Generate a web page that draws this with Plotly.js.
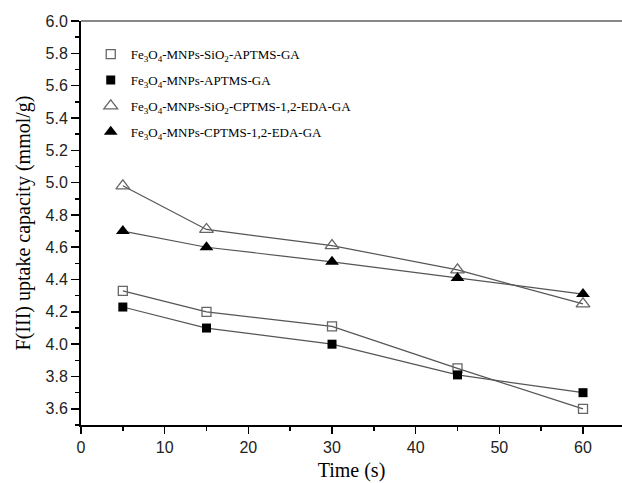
<!DOCTYPE html>
<html>
<head>
<meta charset="utf-8">
<script src="https://cdn.plot.ly/plotly-3.0.1.min.js"></script>
<style>html,body{margin:0;padding:0;background:#fff;}#chart{width:622px;height:483px;}</style>
</head>
<body>
<div id="chart"></div>
<script>
const time = [5, 15, 30, 45, 60];
const sio2Aptms = [4.33, 4.20, 4.11, 3.85, 3.60];
const aptms = [4.23, 4.10, 4.00, 3.81, 3.70];
const sio2Cptms = [4.98, 4.71, 4.61, 4.46, 4.25];
const cptms = [4.70, 4.60, 4.51, 4.41, 4.31];
const seriesNames = [
  'Fe<sub>3</sub>O<sub>4</sub>-MNPs-SiO<sub>2</sub>-APTMS-GA',
  'Fe<sub>3</sub>O<sub>4</sub>-MNPs-APTMS-GA',
  'Fe<sub>3</sub>O<sub>4</sub>-MNPs-SiO<sub>2</sub>-CPTMS-1,2-EDA-GA',
  'Fe<sub>3</sub>O<sub>4</sub>-MNPs-CPTMS-1,2-EDA-GA'
];
const seriesValues = [sio2Aptms, aptms, sio2Cptms, cptms];
const markerStyles = [
  {symbol: 'square-open', size: 9, color: '#666', line: {width: 1.3, color: '#666'}},
  {symbol: 'square', size: 9, color: '#000', line: {width: 0}},
  {symbol: 'triangle-up-open', size: 12, color: '#666', line: {width: 1.3, color: '#666'}},
  {symbol: 'triangle-up', size: 12, color: '#000', line: {width: 0}}
];

const traces = [];
seriesValues.forEach((vals, i) => {
  traces.push({
    x: time, y: vals, mode: 'lines', showlegend: false,
    line: {color: '#555', width: 1.2}, hoverinfo: 'skip'
  });
});
seriesValues.forEach((vals, i) => {
  traces.push({
    x: time, y: vals, mode: 'markers', name: seriesNames[i],
    legendgroup: 'g' + i,
    marker: markerStyles[i]
  });
});

const serif = '"Liberation Serif", "Times New Roman", serif';
const sans = '"Liberation Sans", Arial, sans-serif';
const tickFont = {family: sans, size: 16, color: '#222'};
const titleFont = {family: serif, size: 20, color: '#000'};

const layout = {
  width: 622, height: 483,
  margin: {l: 81, r: 0, t: 21, b: 58},
  paper_bgcolor: '#fff', plot_bgcolor: '#fff',
  font: {family: serif},
  showlegend: true,
  legend: {
    x: 0.018, y: 0.955, xanchor: 'left', yanchor: 'top',
    font: {family: serif, size: 13, color: '#000'},
    bgcolor: 'rgba(0,0,0,0)', tracegroupgap: 6, itemwidth: 30
  },
  xaxis: {
    range: [0, 64.66], tickmode: 'linear', tick0: 0, dtick: 10,
    ticks: 'outside', ticklen: 7, tickwidth: 1.5, tickcolor: '#000',
    minor: {dtick: 5, ticks: 'outside', ticklen: 4, tickwidth: 1.5, tickcolor: '#000', showgrid: false},
    showline: true, linecolor: '#000', linewidth: 2,
    showgrid: false, zeroline: false,
    tickfont: tickFont,
    title: {text: 'Time (s)', font: titleFont, standoff: 8}
  },
  yaxis: {
    range: [3.5, 6.0], tickmode: 'linear', tick0: 3.6, dtick: 0.2, tickformat: '.1f',
    ticks: 'outside', ticklen: 8, tickwidth: 1.5, tickcolor: '#000',
    minor: {dtick: 0.1, ticks: 'outside', ticklen: 4, tickwidth: 1.5, tickcolor: '#000', showgrid: false},
    showline: true, linecolor: '#000', linewidth: 2,
    showgrid: false, zeroline: false,
    tickfont: tickFont,
    title: {text: 'F(III) uptake capacity (mmol/g)', font: titleFont, standoff: 10}
  },
  shapes: [{
    type: 'line', xref: 'paper', yref: 'paper', x0: 0, x1: 1, y0: 1, y1: 1,
    line: {color: '#888', width: 2}
  }]
};

Plotly.newPlot('chart', traces, layout, {displayModeBar: false, staticPlot: true});
</script>
</body>
</html>
